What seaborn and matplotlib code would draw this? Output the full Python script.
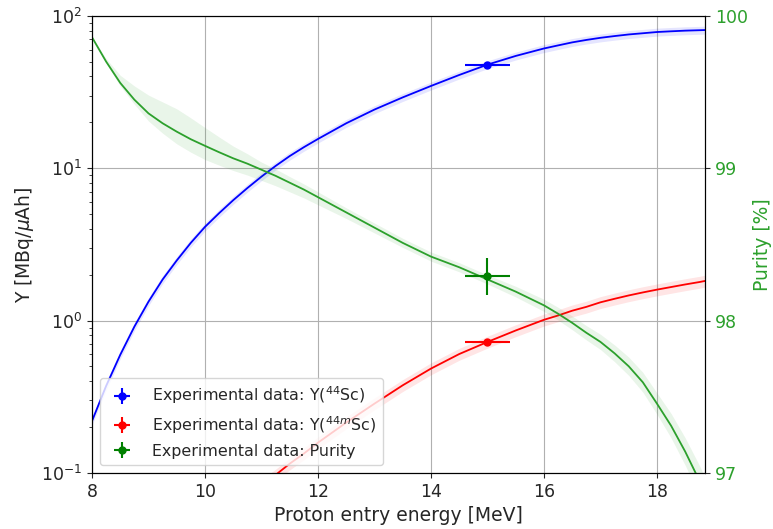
import numpy as np
import pandas as pd
import matplotlib
matplotlib.use("Agg")
import matplotlib.pyplot as plt
import seaborn as sns

# ---- data ----
energy = [8.0, 8.25, 8.5, 8.75, 9.0, 9.25, 9.5, 9.75, 10.0, 10.25, 10.5, 10.75, 11.0,
          11.25, 11.5, 11.75, 12.0, 12.5, 13.0, 13.5, 14.0, 14.5, 15.0, 15.5, 16.0,
          16.25, 16.5, 16.75, 17.0, 17.25, 17.5, 17.75, 18.0, 18.25, 18.5, 18.75, 18.85]

# Y(44Sc) in MBq/uAh
yield_44sc = [0.219, 0.372, 0.596, 0.912, 1.33, 1.86, 2.48, 3.24, 4.12, 5.07, 6.17,
              7.41, 8.81, 10.35, 12.02, 13.74, 15.56, 19.72, 24.27, 29.17, 34.67,
              40.93, 47.86, 54.58, 61.09, 64.0, 66.99, 69.5, 71.78, 73.7, 75.51,
              76.9, 78.34, 79.2, 79.98, 80.5, 80.72]
rel_unc_44sc = [0.06] * 37

# Y(44mSc) in MBq/uAh
yield_44msc = [0.0079, 0.0093, 0.011, 0.013, 0.020, 0.024, 0.029, 0.036, 0.042, 0.049,
               0.059, 0.069, 0.083, 0.097, 0.115, 0.134, 0.158, 0.214, 0.285, 0.376,
               0.484, 0.603, 0.724, 0.861, 1.012, 1.08, 1.161, 1.23, 1.318, 1.39,
               1.462, 1.53, 1.596, 1.66, 1.726, 1.79, 1.82]
rel_unc_44msc = [0.09] * 37

# Purity in %
purity = [99.86, 99.70, 99.56, 99.45, 99.36, 99.295, 99.24, 99.19, 99.147, 99.105,
          99.065, 99.03, 98.99, 98.95, 98.905, 98.86, 98.81, 98.71, 98.61, 98.51,
          98.42, 98.35, 98.27, 98.19, 98.10, 98.045, 97.985, 97.92, 97.86, 97.785,
          97.70, 97.595, 97.455, 97.31, 97.14, 96.95, 96.87]
purity_err_up = [0.0, 0.02, 0.05, 0.09, 0.12, 0.14, 0.15, 0.14, 0.12, 0.10, 0.08,
                 0.065, 0.05, 0.045, 0.04, 0.037, 0.035, 0.03, 0.03, 0.03, 0.03, 0.03,
                 0.03, 0.035, 0.04, 0.042, 0.045, 0.047, 0.05, 0.055, 0.06, 0.065,
                 0.07, 0.08, 0.09, 0.10, 0.10]
purity_err_dn = [0.0, 0.01, 0.02, 0.03, 0.05, 0.065, 0.08, 0.085, 0.09, 0.085, 0.08,
                 0.075, 0.07, 0.065, 0.06, 0.055, 0.05, 0.04, 0.035, 0.03, 0.03, 0.03,
                 0.03, 0.035, 0.04, 0.042, 0.045, 0.047, 0.05, 0.055, 0.06, 0.065,
                 0.07, 0.08, 0.09, 0.10, 0.10]

exp_energy = [15.0]
exp_energy_err = [0.4]
exp_44sc = [47.7]
exp_44sc_err = [2.0]
exp_44msc = [0.724]
exp_44msc_err = [0.03]
exp_purity = [98.29]
exp_purity_err = [0.12]

x_ticks = [8, 10, 12, 14, 16, 18]
purity_ticks = [97, 98, 99, 100]

df = pd.DataFrame({"E": energy, "Y44": yield_44sc, "Y44m": yield_44msc, "P": purity})

# ---- figure ----
sns.set_style("ticks")
plt.rcParams['font.family'] = ['DejaVu Sans']
fig = plt.figure(figsize=(7.73, 5.29), dpi=100)
ax = fig.add_axes([0.119, 0.106, 0.793, 0.864])
ax2 = ax.twinx()

green_line = '#2ca02c'

sns.lineplot(data=df, x="E", y="Y44", ax=ax, color='blue', lw=1.3, legend=False)
ax.fill_between(energy, np.array(yield_44sc) * (1 - np.array(rel_unc_44sc)),
                np.array(yield_44sc) * (1 + np.array(rel_unc_44sc)), color='blue', alpha=0.1, lw=0)
sns.lineplot(data=df, x="E", y="Y44m", ax=ax, color='red', lw=1.3, legend=False)
ax.fill_between(energy, np.array(yield_44msc) * (1 - np.array(rel_unc_44msc)),
                np.array(yield_44msc) * (1 + np.array(rel_unc_44msc)), color='red', alpha=0.1, lw=0)

h1 = ax.errorbar(exp_energy, exp_44sc, xerr=exp_energy_err, yerr=exp_44sc_err, fmt='o',
                 color='blue', ms=5, lw=1.5, label=r'Experimental data: Y($^{44}$Sc)')
h2 = ax.errorbar(exp_energy, exp_44msc, xerr=exp_energy_err, yerr=exp_44msc_err, fmt='o',
                 color='red', ms=5, lw=1.5, label=r'Experimental data: Y($^{44m}$Sc)')

sns.lineplot(data=df, x="E", y="P", ax=ax2, color=green_line, lw=1.3, legend=False)
ax2.fill_between(energy, np.array(purity) - np.array(purity_err_dn),
                 np.array(purity) + np.array(purity_err_up), color=green_line, alpha=0.1, lw=0)
h3 = ax2.errorbar(exp_energy, exp_purity, xerr=exp_energy_err, yerr=exp_purity_err, fmt='o',
                  color='green', ms=5, lw=1.5, label='Experimental data: Purity')

ax.set_yscale('log')
ax.set_ylim(0.1, 100)
ax.set_xlim(8, 18.85)
ax.set_xticks(x_ticks)
ax.grid(True, which='major', color='#b0b0b0', lw=0.8)
ax2.set_ylim(97, 100)
ax2.set_yticks(purity_ticks)
ax2.set_xlim(8, 18.85)

ax.set_xlabel('Proton entry energy [MeV]', fontsize=13.5)
ax.set_ylabel(r'Y [MBq/$\mu$Ah]', fontsize=13.5)
ax2.set_ylabel('Purity [%]', fontsize=13.5, color=green_line)
ax.tick_params(axis='both', which='major', labelsize=12.5, direction='out')
ax2.tick_params(axis='y', labelsize=12.5, labelcolor=green_line)
for a in (ax, ax2):
    for s in a.spines.values():
        s.set_visible(True)
        s.set_color('black')

leg = ax2.legend(handles=[h1, h2, h3], loc='lower left', fontsize=11.4,
                 handletextpad=0.9, framealpha=0.8, edgecolor='0.8')

fig.savefig('out.png', dpi=100)
